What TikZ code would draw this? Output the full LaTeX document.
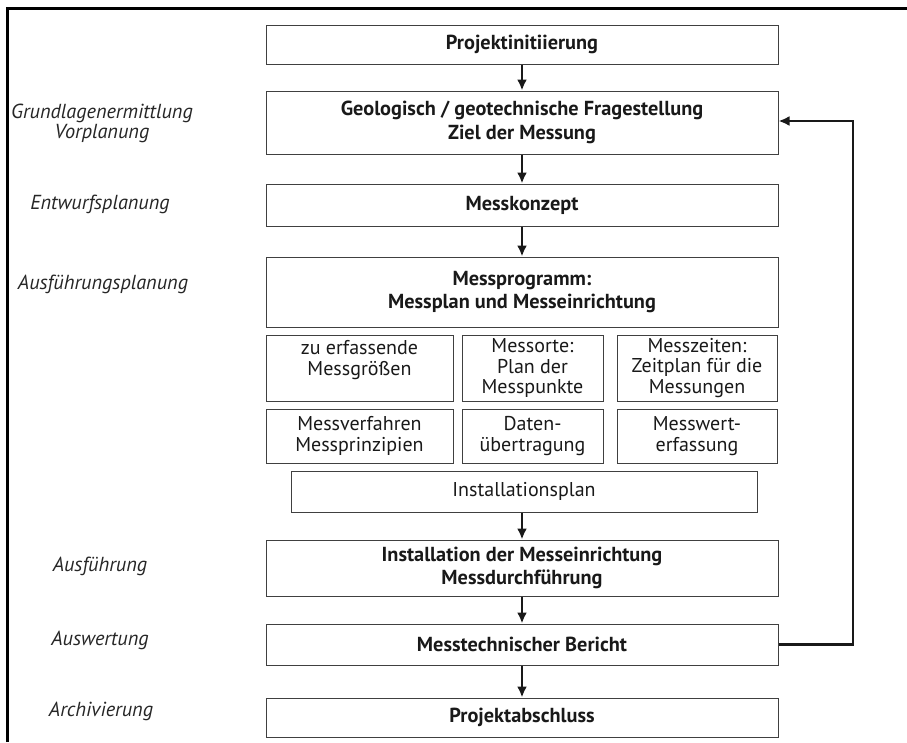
\documentclass[tikz,border=0pt]{standalone}
\usepackage{fontspec}
\setmainfont{PT Sans}
\usetikzlibrary{arrows.meta}

\begin{document}
\begin{tikzpicture}[x=1pt,y=-1pt,
  box/.style={draw=black!75, line width=1pt, inner sep=2pt, align=center, text=black!90},
  mainbox/.style={box, minimum width=512pt, font=\fontsize{20.3}{23.5}\selectfont\bfseries},
  smallbox/.style={box, font=\fontsize{20}{20.5}\selectfont},
  phase/.style={text=black!85, align=center, font=\itshape\fontsize{20.3}{19.5}\selectfont},
  arr/.style={draw=black!90, line width=2.2pt, -{Latex[length=11pt,width=10pt]}}
]
\useasboundingbox (0,0) rectangle (907,742);

% outer frame (top and left edge)
\draw[line width=3pt, line join=miter] (7.5,742) -- (7.5,8.5) -- (907,8.5);

% main column
\node[mainbox, minimum height=39pt] (init) at (522,44.5) {Projektinitiierung};
\node[mainbox, minimum height=63pt] (geo) at (522,122.5)
  {Geologisch / geotechnische Fragestellung\\Ziel der Messung};
\node[mainbox, minimum height=42pt] (konz) at (522,205) {Messkonzept};
\node[mainbox, minimum height=70pt] (prog) at (522,292)
  {Messprogramm:\\Messplan und Messeinrichtung};

% detail boxes of the measuring programme
\node[smallbox, minimum width=187pt, minimum height=66pt] (groessen) at (359.5,368)
  {zu erfassende\\Messgrößen\\\mbox{}};
\node[smallbox, minimum width=141pt, minimum height=66pt] (orte) at (532.5,368)
  {Messorte:\\Plan der\\Messpunkte};
\node[smallbox, minimum width=160pt, minimum height=66pt] (zeiten) at (697,368)
  {Messzeiten:\\Zeitplan für die\\Messungen};
\node[smallbox, minimum width=187pt, minimum height=54pt] (verfahren) at (359.5,436)
  {Messverfahren\\Messprinzipien};
\node[smallbox, minimum width=141pt, minimum height=54pt] (daten) at (532.5,436)
  {Daten-\\übertragung};
\node[smallbox, minimum width=160pt, minimum height=54pt] (erfassung) at (697,436)
  {\raisebox{-3pt}{Messwert-}\\\raisebox{-3pt}{erfassung}};
\node[smallbox, minimum width=466pt, minimum height=41pt] (plan) at (524,491.5)
  {Installationsplan};

\node[mainbox, minimum height=56pt] (ausf) at (522,568)
  {Installation der Messeinrichtung\\Messdurchführung};
\node[mainbox, minimum height=41pt] (bericht) at (522,644.5) {Messtechnischer Bericht};
\node[mainbox, minimum height=39pt] (abschluss) at (522,717.5) {Projektabschluss};

% phase labels
\node[phase] (p1) at (102,123.5) {Grundlagenermittlung\\Vorplanung};
\node[phase] (p2) at (100,204) {Entwurfsplanung};
\node[phase] (p3) at (103,284) {Ausführungsplanung};
\node[phase] (p4) at (100,566) {Ausführung};
\node[phase] (p5) at (100,640) {Auswertung};
\node[phase] (p6) at (101,711) {Archivierung};

% connectors
\draw[arr] (init.south) -- (geo.north);
\draw[arr] (geo.south) -- (konz.north);
\draw[arr] (konz.south) -- (prog.north);
\draw[arr] (ausf.north |- plan.south) -- (ausf.north);
\draw[arr] (ausf.south) -- (bericht.north);
\draw[arr] (bericht.south) -- (abschluss.north);

% feedback loop from the report back to the question
\coordinate (loop) at (853,0);
\draw[arr, line join=miter] (bericht.east) -- (bericht.east -| loop)
  -- ([yshift=1.5pt]geo.east -| loop) -- ([yshift=1.5pt]geo.east);
\end{tikzpicture}
\end{document}
